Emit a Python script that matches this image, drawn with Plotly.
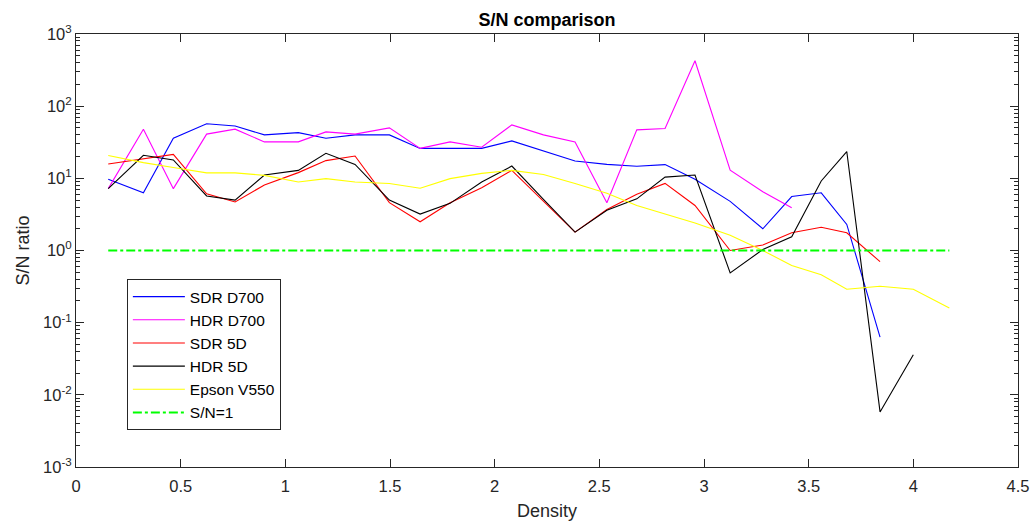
import plotly.graph_objects as go

# Step density of each measured patch
density = [0.154, 0.322, 0.465, 0.624, 0.760, 0.900, 1.062, 1.194, 1.333, 1.497,
           1.644, 1.787, 1.938, 2.082, 2.233, 2.384, 2.536, 2.679, 2.814, 2.957,
           3.125, 3.281, 3.419, 3.560, 3.682, 3.841, 4.000, 4.172]

# Signal-to-noise ratio per device / mode
sdr_d700 = [9.7, 6.3, 36, 57, 53, 40, 43, 36, 40, 40, 26, 26, 26, 33, 24, 17.4,
            15.6, 14.7, 15.5, 9.7, 4.8, 2.0, 5.6, 6.3, 2.3, 0.063]
hdr_d700 = [7.2, 48, 7.2, 41, 48, 32, 32, 44, 41, 50, 26, 32, 27, 55, 40, 32,
            4.6, 47, 49, 426, 13, 6.5, 3.9]
sdr_5d = [15.8, 18.5, 21.5, 6.1, 4.7, 8.1, 12, 17.6, 20.4, 4.6, 2.5, 4.6, 7.4,
          12.9, 4.8, 1.8, 3.7, 6.0, 8.5, 4.2, 1.0, 1.19, 1.76, 2.1, 1.76, 0.70]
hdr_5d = [7.2, 20.9, 18, 5.7, 5.0, 11.1, 12.9, 22.2, 15.6, 5.0, 3.2, 4.5, 8.9,
          14.8, 5.1, 1.8, 3.6, 5.2, 10.4, 11.1, 0.49, 1.03, 1.55, 9.2, 23.5,
          0.0058, 0.036]
epson_v550 = [20.7, 16.5, 14.1, 11.9, 11.9, 11, 8.9, 9.9, 8.9, 8.5, 7.3, 9.9,
              11.7, 12.9, 11.3, 8.5, 6.2, 4.2, 3.2, 2.4, 1.63, 1.0, 0.62, 0.46,
              0.29, 0.32, 0.29, 0.16]
unity = [1.0] * len(density)

y_tickvals = [1e-3, 1e-2, 1e-1, 1e0, 1e1, 1e2, 1e3]
y_ticktext = ["10<sup>-3</sup>", "10<sup>-2</sup>", "10<sup>-1</sup>", "10<sup>0</sup>",
              "10<sup>1</sup>", "10<sup>2</sup>", "10<sup>3</sup>"]
x_tickvals = [0, 0.5, 1, 1.5, 2, 2.5, 3, 3.5, 4, 4.5]
x_ticktext = ["0", "0.5", "1", "1.5", "2", "2.5", "3", "3.5", "4", "4.5"]

series = [
    ("SDR D700", sdr_d700, "#0000FF"),
    ("HDR D700", hdr_d700, "#FF00FF"),
    ("SDR 5D", sdr_5d, "#FF0000"),
    ("HDR 5D", hdr_5d, "#000000"),
    ("Epson V550", epson_v550, "#FFFF00"),
]

fig = go.Figure()
for name, vals, color in series:
    fig.add_trace(go.Scatter(
        x=density[:len(vals)], y=vals, mode="lines", name=name,
        line=dict(color=color, width=1.1),
    ))
fig.add_trace(go.Scatter(
    x=density, y=unity, mode="lines", name="S/N=1",
    line=dict(color="#00FF00", width=2, dash="9px,3px,3px,3px"),
))

axis_color = "#262626"
fig.update_layout(
    width=1035, height=527,
    margin=dict(l=76, r=17, t=34, b=60),
    paper_bgcolor="white", plot_bgcolor="white",
    font=dict(family="Liberation Sans, Arial, sans-serif", size=16.5, color=axis_color),
    title=dict(text="<b>S/N comparison</b>", x=0.5, xref="paper", xanchor="center",
               y=1 - 20 / 527, yanchor="middle", font=dict(size=18, color="#000000")),
    showlegend=True,
    legend=dict(x=0.054, y=0.434, xanchor="left", yanchor="top",
                bgcolor="white", bordercolor="#262626", borderwidth=1,
                font=dict(size=15.5, color="#000000"), tracegroupgap=0,
                itemwidth=52),
)
fig.update_xaxes(
    range=[0, 4.5], tickvals=x_tickvals, ticktext=x_ticktext, automargin=False,
    showgrid=False, zeroline=False, showline=True, linecolor=axis_color, linewidth=1,
    mirror="ticks", ticks="inside", ticklen=8, tickcolor=axis_color,
    ticklabelstandoff=4,
    title=dict(text="Density", standoff=10, font=dict(size=18)),
)
fig.update_yaxes(
    type="log", range=[-3, 3], tickvals=y_tickvals, ticktext=y_ticktext, automargin=False,
    showgrid=False, zeroline=False, showline=True, linecolor=axis_color, linewidth=1,
    mirror="ticks", ticks="inside", ticklen=8, tickcolor=axis_color,
    minor=dict(ticks="inside", ticklen=4, tickcolor=axis_color, showgrid=False,
               tickvals=[m * 10 ** e for e in range(-3, 3) for m in range(2, 10)]),
    title=dict(text="S/N ratio", standoff=8, font=dict(size=18)),
)

fig.write_html("out.html")
